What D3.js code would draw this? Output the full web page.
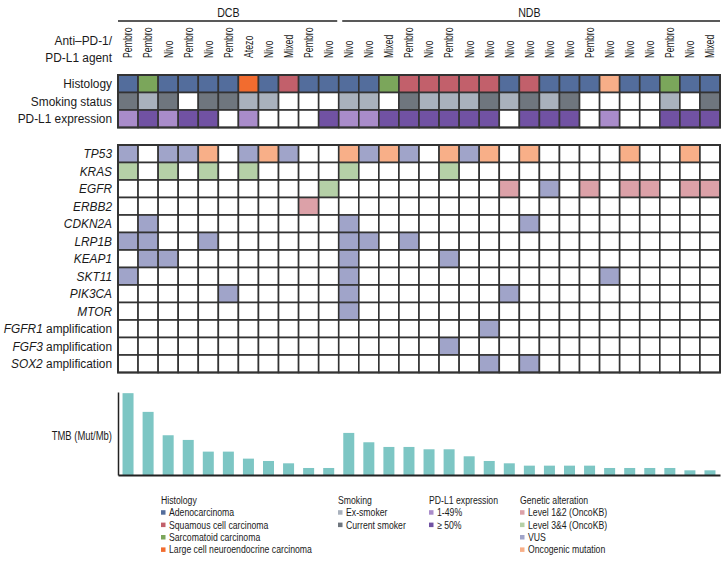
<!DOCTYPE html>
<html>
<head>
<meta charset="utf-8">
<script src="https://cdn.jsdelivr.net/npm/d3@7"></script>
<style>
  html, body { margin: 0; padding: 0; background: #fff; }
  svg { display: block; }
  text { font-family: "Liberation Sans", Arial, sans-serif; fill: #1a1a1a; }
</style>
</head>
<body>
<div id="chart"></div>
<script>
// ---------------- DATA ----------------
const groups = [{ name: "DCB", n: 11 }, { name: "NDB", n: 19 }];
const agents = ["Pembro","Pembro","Nivo","Pembro","Nivo","Pembro","Atezo","Nivo","Mixed","Pembro","Nivo",
                "Nivo","Nivo","Mixed","Pembro","Nivo","Pembro","Nivo","Nivo","Nivo","Nivo","Nivo","Nivo","Pembro","Nivo","Nivo","Nivo","Pembro","Nivo","Mixed"];
// A adeno, Q squamous, S sarcomatoid, L LCNEC, P (light shade as printed)
const histology = ["A","S","A","A","A","A","L","A","Q","A","A",
                   "A","A","S","Q","Q","Q","Q","Q","A","Q","A","A","A","P","A","A","S","A","A"];
// E ex-smoker, C current smoker, "" none
const smoking = ["C","E","C","","C","C","E","E","","","",
                 "E","E","","C","E","E","E","C","E","C","E","C","","","","","E","","C"];
// L 1-49%, H >=50%, "" none
const pdl1 = ["L","H","L","H","H","","L","","","","H",
              "L","L","H","H","H","H","H","H","","H","H","H","","L","","","H","H","H"];
const genes = ["TP53","KRAS","EGFR","ERBB2","CDKN2A","LRP1B","KEAP1","SKT11","PIK3CA","MTOR","FGFR1","FGF3","SOX2"];
const geneSuffix = ["","","","","","","","","",""," amplification"," amplification"," amplification"];
// 1 Level 1&2, 3 Level 3&4, V VUS, O oncogenic mutation
const TP53   = ["V","","V","V","O","","V","O","V","","","O","V","O","V","","O","V","O","","O","","","","","O","","","O",""];
const KRAS   = ["3","","3","","3","","3","","","","","3","","","","","3","","","","","","","","","","","","",""];
const EGFR   = ["","","","","","","","","","","3","","","","","","","","","1","","V","","1","","1","1","","1","1"];
const ERBB2  = ["","","","","","","","","","1","","","","","","","","","","","","","","","","","","","",""];
const CDKN2A = ["","V","","","","","","","","","","V","","","","","","","","","V","","","","","","","","",""];
const LRP1B  = ["V","V","","","V","","","","","","","V","V","","V","","","","","","","","","","","","","","",""];
const KEAP1  = ["","V","V","","","","","","","","","V","","","","","V","","","","","","","","","","","","",""];
const SKT11  = ["V","","","","","","","","","","","V","","","","","","","","","","","","","V","","","","",""];
const PIK3CA = ["","","","","","V","","","","","","V","","","","","","","","V","","","","","","","","","",""];
const MTOR   = ["","","","","","","","","","","","V","","","","","","","","","","","","","","","","","",""];
const FGFR1  = ["","","","","","","","","","","","","","","","","","","V","","","","","","","","","","",""];
const FGF3   = ["","","","","","","","","","","","","","","","","V","","","","","","","","","","","","",""];
const SOX2   = ["","","","","","","","","","","","","","","","","","","V","","V","","","","","","","","",""];
const alterations = [TP53, KRAS, EGFR, ERBB2, CDKN2A, LRP1B, KEAP1, SKT11, PIK3CA, MTOR, FGFR1, FGF3, SOX2];
const tmb = [35,27,17,15,10,10,7,6,5,3,3, 18,14,12,12,11,11,8,6,5,4,4,4,4,3,3,3,3,2,2];

const clinLabels = ["Histology","Smoking status","PD-L1 expression"];
const legendHist = ["Adenocarcinoma","Squamous cell carcinoma","Sarcomatoid carcinoma","Large cell neuroendocrine carcinoma"];
const legendSmoke = ["Ex-smoker","Current smoker"];
const legendPdl1 = ["1-49%","\u2265 50%"];
const legendGen = ["Level 1&2 (OncoKB)","Level 3&4 (OncoKB)","VUS","Oncogenic mutation"];

// ---------------- STYLE ----------------
const histColor = { A: "#536d9c", Q: "#c2606b", S: "#7ba65b", L: "#f26c2f", P: "#f7ae88" };
const smokeColor = { E: "#a9b1bd", C: "#6f767e" };
const pdColor = { L: "#a98cca", H: "#7152a3" };
const genColor = { "1": "#dca1a8", "3": "#b5d0a7", V: "#a0a4c9", O: "#f8af88" };
const barColor = "#7dc6c4";
const gridStroke = "#333";

const W = 728, H = 562;
const svg = d3.select("#chart").append("svg").attr("width", W).attr("height", H);

// condensed-looking text: horizontal compression of a regular sans
function ctext(parent, x, y, str, o) {
  const rot = o.rotate ? ` rotate(${o.rotate})` : "";
  const t = parent.append("text")
    .attr("transform", `translate(${x},${y})${rot} scale(${o.sx},1)`)
    .attr("dy", "0.35em")
    .attr("text-anchor", o.anchor || "start")
    .attr("font-size", o.size)
    .attr("fill", o.fill || "#1a1a1a");
  if (str !== null) t.text(str);
  return t;
}
const LAB = { size: 13.5, sx: 0.88, anchor: "end" };

const nCols = agents.length;
const x = d3.scaleBand().domain(d3.range(nCols)).range([118, 720]).paddingInner(0);
const rowH = 17.5;
const yClin = d3.scaleBand().domain(d3.range(3)).range([75, 75 + 3 * rowH]);
const yGene = d3.scaleBand().domain(d3.range(genes.length)).range([145, 145 + genes.length * rowH]);

// ---- group headers ----
let start = 0;
groups.forEach((g, gi) => {
  const x0 = x(start), x1 = x(start + g.n - 1) + x.bandwidth();
  const lx0 = gi === 0 ? x0 : x0 + 3.5;
  const lx1 = gi === 0 ? x1 - 1.5 : x1;
  svg.append("line").attr("x1", lx0).attr("x2", lx1).attr("y1", 21).attr("y2", 21)
    .attr("stroke", "#222").attr("stroke-width", 1.5);
  ctext(svg, (x0 + x1) / 2, 12.5, g.name, { size: 13, sx: 0.82, anchor: "middle" });
  start += g.n;
});

// ---- agent labels ----
agents.forEach((a, i) => {
  ctext(svg, x(i) + x.bandwidth() / 2, 58, a, { size: 12.5, sx: 0.7, anchor: "start", rotate: -90 });
});
ctext(svg, 112, 40, "Anti\u2013PD-1/", LAB);
ctext(svg, 112, 57, "PD-L1 agent", LAB);

// ---- clinical rows ----
const clinRows = [
  { vals: histology, col: histColor },
  { vals: smoking, col: smokeColor },
  { vals: pdl1, col: pdColor }
];
clinRows.forEach((r, ri) => {
  svg.append("g").selectAll("rect").data(r.vals).join("rect")
    .attr("x", (d, i) => x(i)).attr("y", yClin(ri))
    .attr("width", x.bandwidth()).attr("height", yClin.bandwidth())
    .attr("fill", d => r.col[d] || "#fff")
    .attr("stroke", gridStroke).attr("stroke-width", 1.6);
  ctext(svg, 112, yClin(ri) + rowH / 2, clinLabels[ri], LAB);
});
svg.append("rect").attr("x", 118).attr("y", 75).attr("width", 602).attr("height", 3 * rowH)
  .attr("fill", "none").attr("stroke", gridStroke).attr("stroke-width", 2);

// ---- gene rows ----
alterations.forEach((vals, gi) => {
  svg.append("g").selectAll("rect").data(vals).join("rect")
    .attr("x", (d, i) => x(i)).attr("y", yGene(gi))
    .attr("width", x.bandwidth()).attr("height", yGene.bandwidth())
    .attr("fill", d => genColor[d] || "#fff")
    .attr("stroke", gridStroke).attr("stroke-width", 1.6);
  const t = ctext(svg, 112, yGene(gi) + rowH / 2, null, LAB);
  t.append("tspan").attr("font-style", "italic").text(genes[gi]);
  if (geneSuffix[gi]) t.append("tspan").text(geneSuffix[gi]);
});
svg.append("rect").attr("x", 118).attr("y", 145).attr("width", 602).attr("height", genes.length * rowH)
  .attr("fill", "none").attr("stroke", gridStroke).attr("stroke-width", 2);

// ---- TMB bars ----
const yT = d3.scaleLinear().domain([0, 35.5]).range([475, 392]);
const barW = 11;
svg.append("g").selectAll("rect").data(tmb).join("rect")
  .attr("x", (d, i) => x(i) + x.bandwidth() / 2 - barW / 2)
  .attr("y", d => yT(d)).attr("width", barW).attr("height", d => yT(0) - yT(d))
  .attr("fill", barColor);
const axL = svg.append("g").attr("transform", "translate(118,0)")
  .call(d3.axisLeft(yT).tickValues([]).tickSizeOuter(0));
axL.select(".domain").attr("stroke", "#222").attr("stroke-width", 1.5);
const axB = svg.append("g").attr("transform", "translate(0,475)")
  .call(d3.axisBottom(x).tickValues([]).tickSizeOuter(0));
axB.select(".domain").attr("stroke", "#222").attr("stroke-width", 2);
ctext(svg, 112, 435, "TMB (Mut/Mb)", { size: 13.5, sx: 0.7, anchor: "end" });

// ---- legend ----
const legends = [
  { x: 161, title: "Histology", items: legendHist, colors: [histColor.A, histColor.Q, histColor.S, histColor.L] },
  { x: 338, title: "Smoking", items: legendSmoke, colors: [smokeColor.E, smokeColor.C] },
  { x: 429, title: "PD-L1 expression", items: legendPdl1, colors: [pdColor.L, pdColor.H] },
  { x: 520, title: "Genetic alteration", items: legendGen, colors: [genColor["1"], genColor["3"], genColor.V, genColor.O] }
];
const legY0 = 500, legStep = 12.4;
const LEG = { size: 11, sx: 0.79, anchor: "start", fill: "#333" };
legends.forEach(L => {
  const g = svg.append("g");
  ctext(g, L.x, legY0, L.title, LEG);
  L.items.forEach((it, i) => {
    const yy = legY0 + (i + 1) * legStep;
    g.append("rect").attr("x", L.x).attr("y", yy - 2.2).attr("width", 4.5).attr("height", 4.5).attr("fill", L.colors[i]);
    ctext(g, L.x + 8, yy, it, LEG);
  });
});
</script>
</body>
</html>
